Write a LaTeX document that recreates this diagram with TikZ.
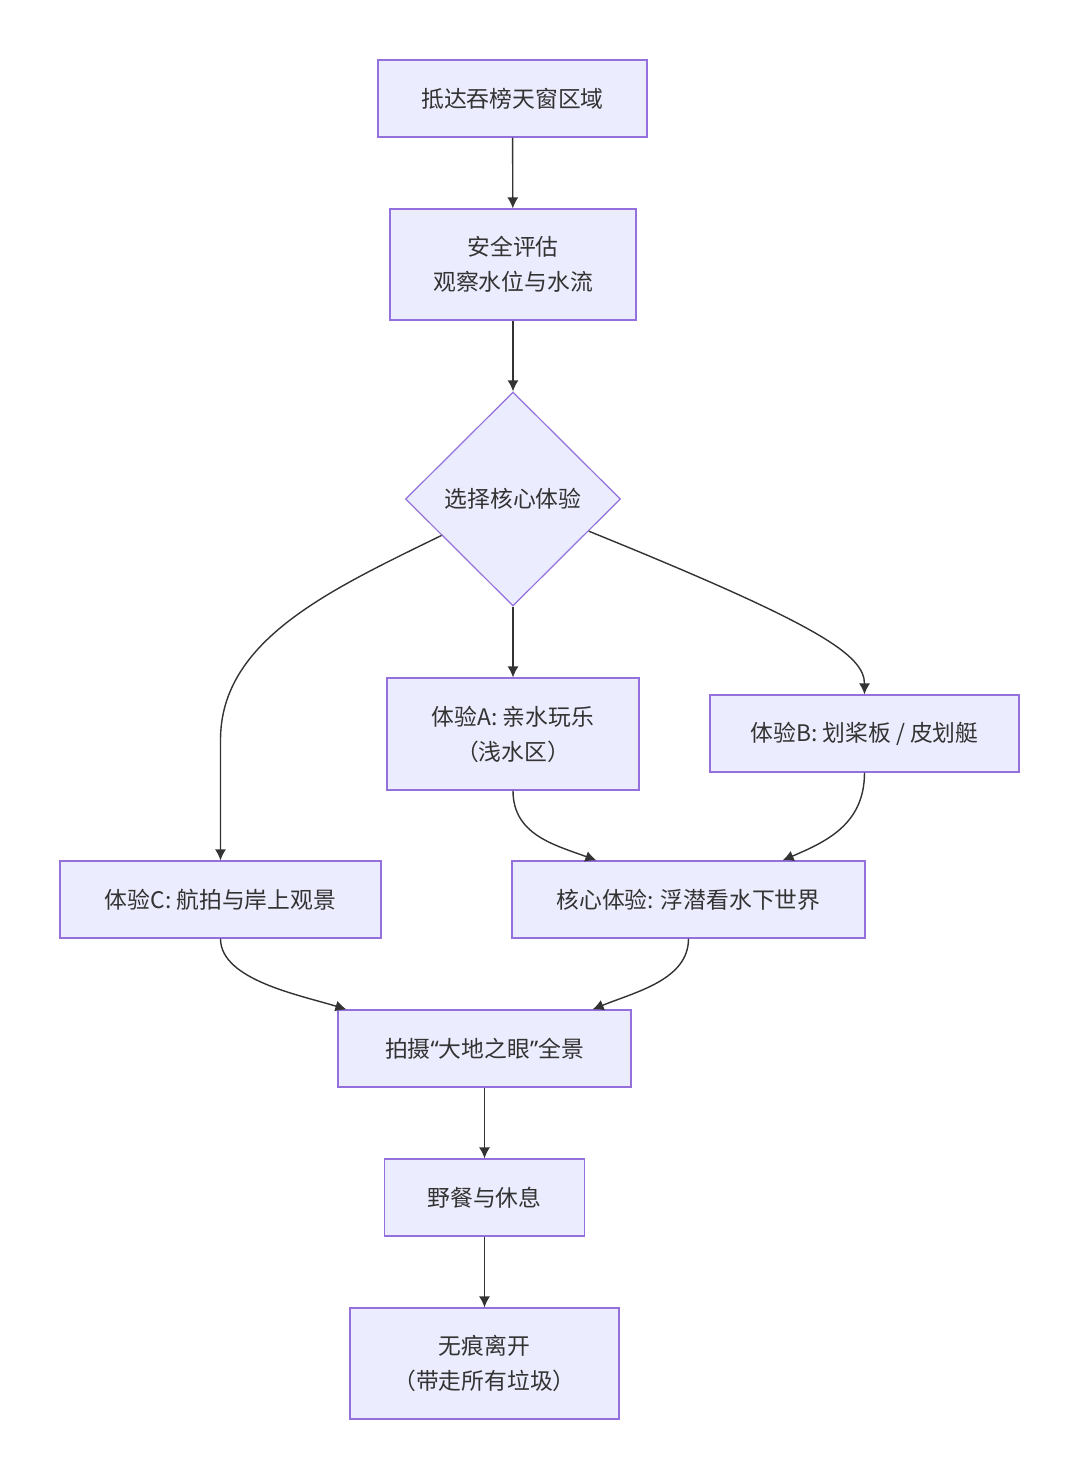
\documentclass[tikz,border=0pt]{standalone}
\usepackage{fontspec}
\setmainfont{Noto Sans CJK SC}
\newfontfamily\quotefont{Noto Sans}
\usetikzlibrary{shapes.geometric}
\usetikzlibrary{arrows.meta}

\definecolor{boxfill}{HTML}{ECECFF}
\definecolor{boxline}{HTML}{9370DB}
\definecolor{edgeline}{HTML}{333333}

\tikzset{
  box/.style={draw=boxline, fill=boxfill, line width=0.6pt, align=center,
    text=edgeline, font=\fontsize{11.4}{17.5}\selectfont, inner sep=0pt},
  choice/.style={box, diamond, aspect=1},
  arr/.style={draw=edgeline, line width=0.7pt, -{Latex[length=5.5pt,width=5.5pt]}}
}

\begin{document}
\begin{tikzpicture}[x=0.5pt, y=-0.5pt]
\useasboundingbox (0,0) rectangle (1080,1480);

% top of the flow
\node[box, minimum width=134.5pt, minimum height=38.5pt] (arrive) at (512.5,98.5) {抵达吞榜天窗区域};
\node[box, minimum width=123pt, minimum height=55.5pt] (safety) at (513,264.5) {安全评估\\观察水位与水流};
\node[choice, minimum width=107.5pt, minimum height=107pt] (pick) at (513,499) {选择核心体验};

% the three choices
\node[box, minimum width=126pt, minimum height=56pt] (expA) at (513,734) {体验A: 亲水玩乐\\（浅水区）};
\node[box, minimum width=154.5pt, minimum height=38.5pt] (expB) at (864.5,733.5) {体验B: 划桨板 / 皮划艇};
\node[box, minimum width=160.5pt, minimum height=38.5pt] (expC) at (220.5,899.5) {体验C: 航拍与岸上观景};
\node[box, minimum width=176.5pt, minimum height=38.5pt] (snorkel) at (688.5,899.5) {核心体验: 浮潜看水下世界};

% bottom of the flow
\node[box, minimum width=146.5pt, minimum height=38.5pt] (photo) at (484.5,1048.5) {拍摄{\quotefont “}大地之眼{\quotefont ”}全景};
\node[box, minimum width=100pt, minimum height=38.5pt] (picnic) at (484.5,1197.5) {野餐与休息};
\node[box, minimum width=134.5pt, minimum height=55.5pt] (leave) at (484.5,1363.5) {无痕离开\\（带走所有垃圾）};

% connectors
\draw[arr] (arrive) -- (safety);
\draw[arr] (safety) -- (pick);
\draw[arr] (pick) -- (expA);
\draw[arr] (pick.-23) .. controls (820,625) and (864.5,655) .. (expB.north);
\draw[arr] (pick.207) .. controls (330,590) and (220.5,640) .. (220.5,740) -- (expC.north);
\draw[arr] (expA.south) .. controls (513,835) and (555,845) .. ([xshift=42.5pt]snorkel.north west);
\draw[arr] (expB.south) .. controls (864.5,825) and (825,842) .. ([xshift=-41.5pt]snorkel.north east);
\draw[arr] (expC.south) .. controls (220.5,980) and (300,995) .. ([xshift=4.5pt]photo.north west);
\draw[arr] (snorkel.south) .. controls (688.5,980) and (635,992) .. ([xshift=-19.5pt]photo.north east);
\draw[arr] (photo) -- (picnic);
\draw[arr] (picnic) -- (leave);

\end{tikzpicture}
\end{document}
